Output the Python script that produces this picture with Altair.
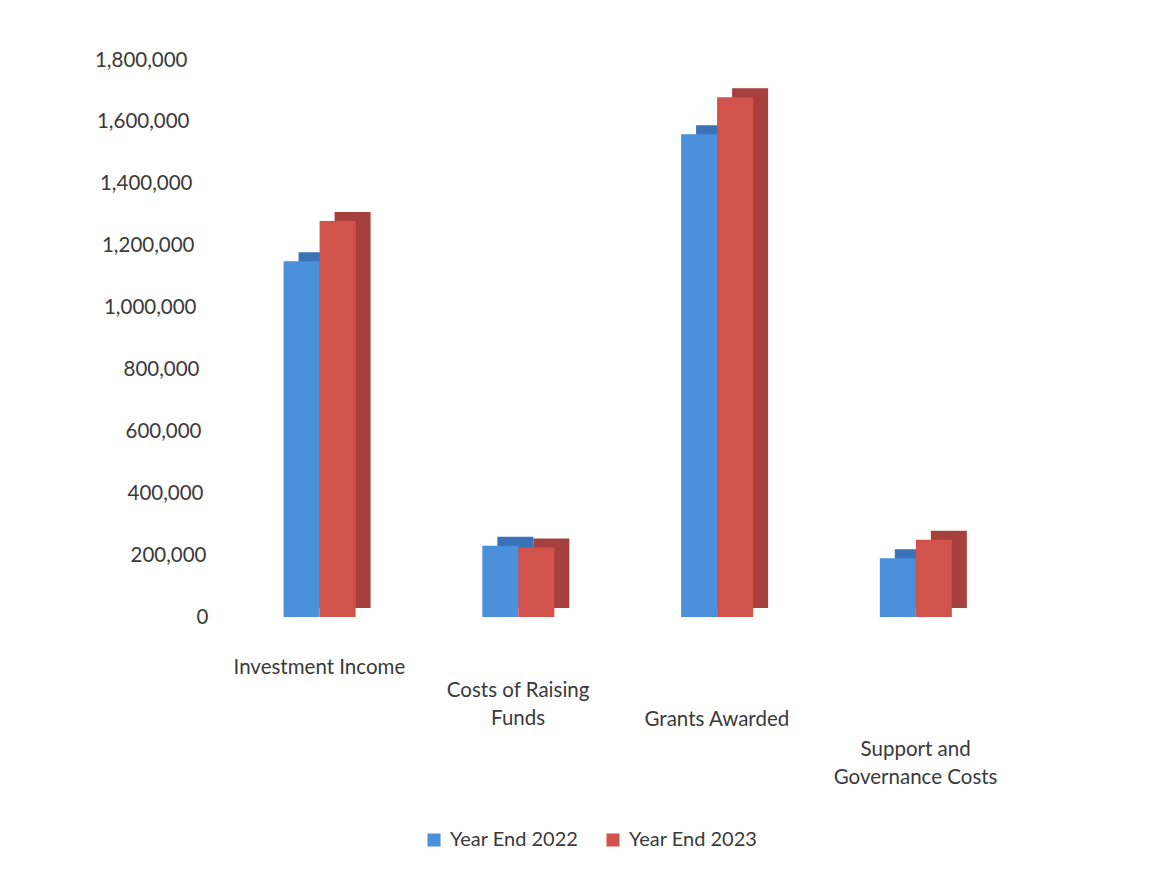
import altair as alt
import pandas as pd

categories = ["Investment Income", "Costs of Raising Funds", "Grants Awarded", "Support and Governance Costs"]
series = ["Year End 2022", "Year End 2023"]
values_2022 = [1150000, 230000, 1560000, 190000]
values_2023 = [1280000, 225000, 1680000, 250000]
y_ticks = [0, 200000, 400000, 600000, 800000, 1000000, 1200000, 1400000, 1600000, 1800000]

front_colors = ["#4A90DA", "#D2524C"]
side_colors = ["#3A72B8", "#A5403C"]

rows = []
for c, a, b in zip(categories, values_2022, values_2023):
    rows.append({"Category": c, "Series": series[0], "Value": a})
    rows.append({"Category": c, "Series": series[1], "Value": b})
df = pd.DataFrame(rows)

FONT = "Lato"
TXT = "#3a3a3a"

label_expr = (
    "datum.value == 'Costs of Raising Funds' ? ['Costs of Raising', 'Funds'] : "
    "datum.value == 'Support and Governance Costs' ? ['Support and', 'Governance Costs'] : datum.label"
)

# y labels drift left as they go up (perspective of the original 3-D chart)
y_pad_conditions = [
    {"test": f"datum.value == {v}", "value": 12 + round(21 * v / 1800000)}
    for v in y_ticks[1:]
]

x_enc = alt.X(
    "Category:N",
    sort=categories,
    scale=alt.Scale(paddingInner=0.64, paddingOuter=0.32),
    axis=alt.Axis(
        title=None, domain=False, ticks=False, labelAngle=0,
        labelFont=FONT, labelFontSize=20.5, labelColor=TXT,
        labelExpr=label_expr, labelLineHeight=28, labelBaseline="top",
        labelPadding={"condition": [
            {"test": "datum.value == 'Costs of Raising Funds'", "value": 63},
            {"test": "datum.value == 'Grants Awarded'", "value": 92},
            {"test": "datum.value == 'Support and Governance Costs'", "value": 122},
        ], "value": 40},
    ),
)
y_enc = alt.Y(
    "Value:Q",
    scale=alt.Scale(domain=[0, 1800000], nice=False),
    axis=alt.Axis(
        title=None, values=y_ticks, format=",d", domain=False, ticks=False, grid=False,
        labelFont=FONT, labelFontSize=20.5, labelColor=TXT,
        labelPadding={"condition": y_pad_conditions, "value": 12},
    ),
)

back = alt.Chart(df).mark_bar(yOffset=-9, y2Offset=-9).encode(
    x=x_enc,
    y=y_enc,
    xOffset=alt.XOffset("Series:N", sort=series, scale=alt.Scale(range=[15, 87])),
    color=alt.Color("Series:N", sort=series, scale=alt.Scale(domain=series, range=side_colors), legend=None),
)

front = alt.Chart(df).mark_bar().encode(
    x=x_enc,
    y=y_enc,
    xOffset=alt.XOffset("Series:N", sort=series, scale=alt.Scale(range=[0, 72])),
    color=alt.Color(
        "Series:N", sort=series,
        scale=alt.Scale(domain=series, range=front_colors),
        legend=alt.Legend(
            title=None, orient="none", direction="horizontal", legendX=204, legendY=770,
            symbolType="square", symbolSize=170, symbolStrokeWidth=0,
            labelFont=FONT, labelFontSize=20, labelColor=TXT, columnPadding=24, labelOffset=6,
        ),
    ),
)

chart = alt.layer(back, front).resolve_scale(color="independent", xOffset="independent").properties(
    width=795, height=557,
    padding={"left": 220, "top": 60, "right": 148, "bottom": 256},
    autosize="none",
    background="white",
).configure_view(stroke=None)

chart.save("out.html", embed_options={"renderer": "svg", "actions": False})
